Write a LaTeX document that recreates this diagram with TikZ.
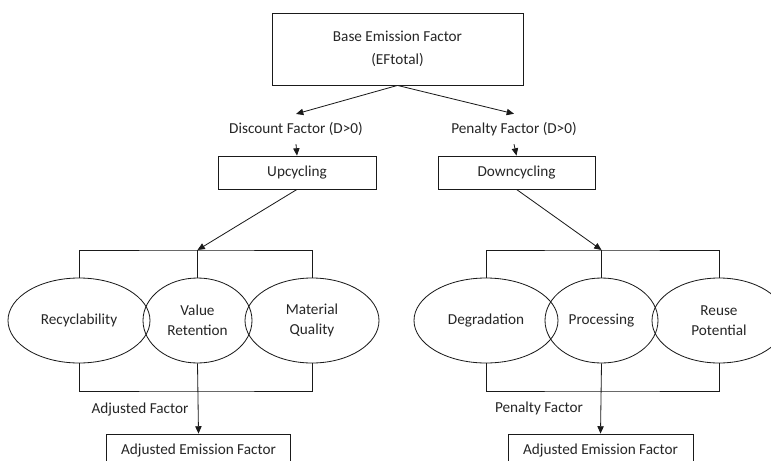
\documentclass[tikz,border=0pt]{standalone}
\usepackage{fontspec}
\setmainfont{Carlito}
\usetikzlibrary{arrows.meta, shapes.geometric, calc}
\definecolor{inkline}{HTML}{1A1A1A}
\definecolor{inktext}{HTML}{262626}

\tikzset{
  box/.style={draw=inkline, line width=0.7pt, rectangle, text=inktext, align=center},
  oval/.style={draw=inkline, line width=0.7pt, ellipse, minimum height=25.5mm, inner sep=0pt, text=inktext, align=center},
  factorlbl/.style={text=inktext, inner sep=7pt},
  arr/.style={draw=inkline, line width=0.7pt, -{Triangle[length=2.2mm, width=1.9mm]}},
  link/.style={draw=inkline, line width=0.7pt}
}

\begin{document}
\begin{tikzpicture}[x=0.3mm, y=-0.3mm, font=\fontsize{13}{17}\selectfont]

% Frame of the page
\useasboundingbox (0,0) rectangle (771,460);
\clip (0,0) rectangle (771,460);
\fill[white] (0,0) rectangle (771,460);

% Base factor
\node[box, minimum width=75.3mm, minimum height=21.6mm, font=\fontsize{13}{19.6}\selectfont] (base) at (397.5,49) {Base Emission Factor\\(EFtotal)};

% Factor labels
\node[factorlbl] (disc) at (296,129) {Discount Factor (D>0)};
\node[factorlbl] (pen) at (514,129) {Penalty Factor (D>0)};

% Recycling routes
\node[box, minimum width=47.4mm, minimum height=9.9mm] (up) at (297,172.5) {Upcycling};
\node[box, minimum width=47.1mm, minimum height=9.9mm] (down) at (516.5,172.5) {Downcycling};

\draw[arr] (base.south) -- (disc.north);
\draw[arr] (base.south) -- (pen.north);
\draw[arr] (disc.south) -- (up.north);
\draw[arr] (pen.south) -- (down.north);

% Upcycling criteria
\node[oval, minimum width=42.6mm] (rec) at (79,320.5) {Recyclability};
\node[oval, minimum width=32.7mm] (val) at (197.5,320.5) {Value\\Retention};
\node[oval, minimum width=40.2mm] (mat) at (312,320.5) {Material\\Quality};

% Downcycling criteria
\node[oval, minimum width=43.2mm] (deg) at (486,320.5) {Degradation};
\node[oval, minimum width=33.9mm] (proc) at (601.5,320.5) {Processing};
\node[oval, minimum width=40.2mm] (reuse) at (719,320.5) {Reuse\\Potential};

% Brackets
\coordinate (lt) at (197.5,250);
\coordinate (lb) at (197.5,391);
\coordinate (rt) at (601.5,250);
\coordinate (rb) at (601.5,391);

\draw[link] (rec.north) |- (lt) -| (mat.north);
\draw[link] (val.north) -- (lt);
\draw[link] (rec.south) |- (lb) -| (mat.south);
\draw[link] (deg.north) |- (rt) -| (reuse.north);
\draw[link] (proc.north) -- (rt);
\draw[link] (deg.south) |- (rb) -| (reuse.south);

\draw[arr] (up.south) -- (lt);
\draw[arr] (down.south) -- (rt);

% Results
\node[box, minimum width=55mm, minimum height=9.9mm] (adjl) at (198.5,450.5) {Adjusted Emission Factor};
\node[box, minimum width=55.5mm, minimum height=9.9mm] (adjr) at (600.5,450.5) {Adjusted Emission Factor};

\draw[arr] (val.south) -- (adjl.north);
\draw[arr] (proc.south) -- (adjr.north);

\node[text=inktext] (adjlbl) at (140,410) {Adjusted Factor};
\node[text=inktext] (penlbl) at (539,408) {Penalty Factor};

\end{tikzpicture}
\end{document}
